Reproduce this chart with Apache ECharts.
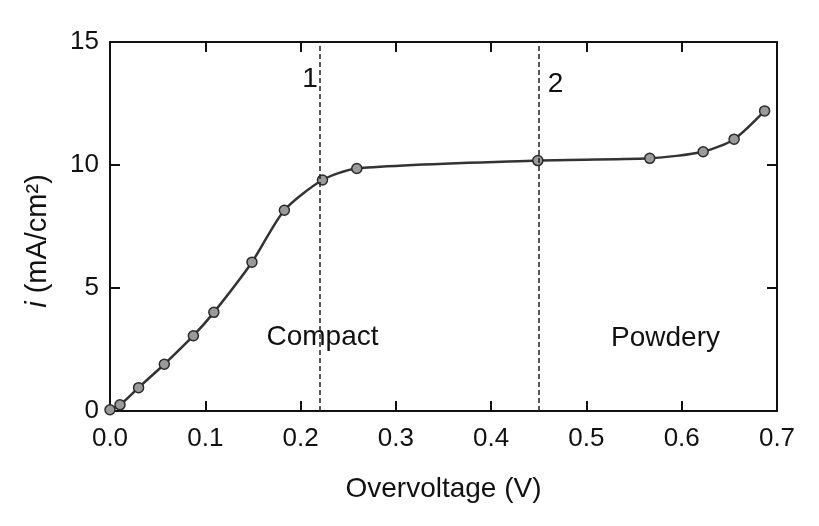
<!DOCTYPE html>
<html>
<head>
<meta charset="utf-8">
<script src="https://cdn.jsdelivr.net/npm/echarts@6/dist/echarts.min.js"></script>
<style>html,body{margin:0;padding:0;background:#fff;}#c{width:819px;height:526px;}</style>
</head>
<body>
<div id="c"></div>
<script>
// Data
const overvoltage = [0.0, 0.0105, 0.030, 0.057, 0.0875, 0.109, 0.149, 0.183, 0.223, 0.259, 0.449, 0.5665, 0.6225, 0.655, 0.687];
const currentDensity = [0.05, 0.25, 0.95, 1.9, 3.06, 4.01, 6.05, 8.16, 9.39, 9.86, 10.18, 10.27, 10.54, 11.05, 12.2];
const boundaryX = [0.223, 0.449];
const annotationX = [0.21, 0.4675, 0.223, 0.583];
const annotationY = [13.5, 13.3, 3.0, 2.95];
const annotationText = ['1', '2', 'Compact', 'Powdery'];
const xTicks = [0.0, 0.1, 0.2, 0.3, 0.4, 0.5, 0.6, 0.7];
const yTicks = [0, 5, 10, 15];

const FONT = '"Liberation Sans", Arial, sans-serif';
const INK = '#111111';

const chart = echarts.init(document.getElementById('c'));
const axisCommon = {
  axisLine: { show: true, onZero: false, lineStyle: { color: INK, width: 2 } },
  axisTick: { show: true, inside: true, length: 10, lineStyle: { color: INK, width: 2 } },
  splitLine: { show: false }
};
chart.setOption({
  backgroundColor: '#fff',
  animation: false,
  grid: { left: 110, right: 42, top: 42, bottom: 115 },
  xAxis: [
    Object.assign({
      type: 'value', min: 0, max: 0.7, interval: 0.1, position: 'bottom',
      name: 'Overvoltage (V)', nameLocation: 'middle', nameGap: 64,
      nameTextStyle: { fontFamily: FONT, fontSize: 28, color: INK },
      axisLabel: { fontFamily: FONT, fontSize: 26, color: INK, margin: 15,
        formatter: v => xTicks.reduce((a, t) => Math.abs(t - v) < 1e-9 ? t.toFixed(1) : a, '') }
    }, axisCommon),
    Object.assign({
      type: 'value', min: 0, max: 0.7, interval: 0.1, position: 'top',
      axisLabel: { show: false }
    }, axisCommon)
  ],
  yAxis: [
    Object.assign({
      type: 'value', min: 0, max: 15, interval: 5, position: 'left',
      axisLabel: { fontFamily: FONT, fontSize: 26, color: INK, margin: 11,
        formatter: v => yTicks.indexOf(v) >= 0 ? String(v) : '' }
    }, axisCommon),
    Object.assign({
      type: 'value', min: 0, max: 15, interval: 5, position: 'right',
      axisLabel: { show: false }
    }, axisCommon)
  ],
  graphic: [{
    type: 'text', x: 38, y: 241, rotation: Math.PI / 2, originX: 0, originY: 0,
    style: {
      text: '{it|i} (mA/cm²)', fill: INK, font: '29px ' + FONT,
      align: 'center', verticalAlign: 'middle',
      rich: { it: { fontStyle: 'italic', fontFamily: FONT, fontSize: 29, fill: INK } }
    }
  }],
  series: [
    {
      type: 'line',
      data: overvoltage.map((x, i) => [x, currentDensity[i]]),
      smooth: 0.25,
      symbol: 'circle', symbolSize: 10,
      itemStyle: { color: '#9a9a9a', borderColor: '#2a2a2a', borderWidth: 1.5 },
      lineStyle: { color: '#333333', width: 2.5 },
      markLine: {
        silent: true, symbol: ['none', 'none'],
        label: { show: false },
        lineStyle: { type: [5, 3], color: '#222222', width: 1.5 },
        data: boundaryX.map(x => ({ xAxis: x }))
      },
      z: 3
    },
    {
      type: 'scatter',
      data: annotationX.map((x, i) => [x, annotationY[i], annotationText[i]]),
      symbolSize: 0,
      itemStyle: { opacity: 1 },
      label: {
        show: true, position: 'inside', formatter: p => p.value[2],
        fontFamily: FONT, fontSize: 28, color: INK
      },
      silent: true
    }
  ]
});
</script>
</body>
</html>
